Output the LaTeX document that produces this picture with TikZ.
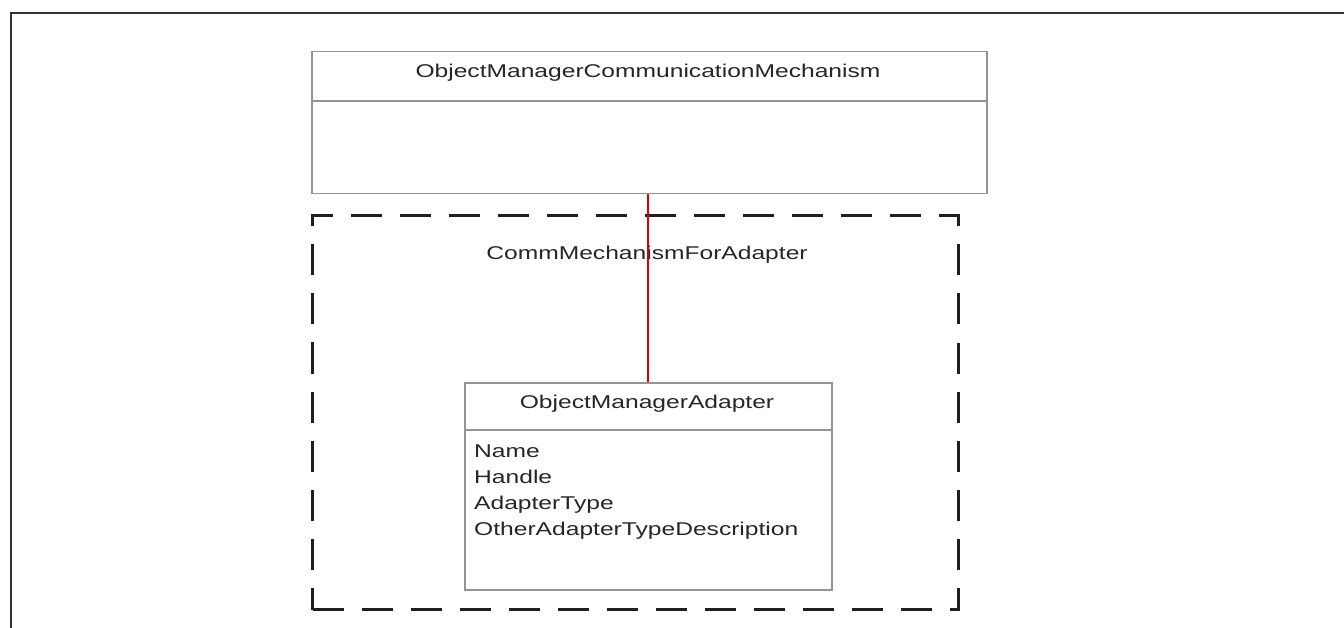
\documentclass[tikz,border=0pt]{standalone}
\usepackage{fontspec}
\setmainfont{Liberation Sans}[FakeStretch=1.33]
\begin{document}
\begin{tikzpicture}[x=1pt,y=-1pt,
  umlbox/.style={draw=black!42, line width=1.5pt, fill=white, anchor=north west, inner sep=0pt},
  groupbox/.style={draw=black!88, line width=3pt, dash pattern=on 31pt off 18pt, anchor=north west, inner sep=0pt},
  lbl/.style={inner sep=0pt, font=\fontsize{18.5}{26}\selectfont, text=black!85},
  link/.style={draw=red!85!black, line width=2pt}]
\useasboundingbox (0,0) rectangle (1344,628);
% outer frame
\draw[black!80, line width=2.2pt] (11,632) -- (11,13) -- (1350,13);
% top class
\node[umlbox, minimum width=675pt, minimum height=142pt] (omcm) at (311,51) {};
\draw[black!42, line width=1.5pt] (311,101) -- (986,101);
\node[lbl, anchor=base] (omcmT) at (648,78) {ObjectManagerCommunicationMechanism};
% dashed group
\node[groupbox, minimum width=646pt, minimum height=394pt] (grp) at (311,214) {};
\node[lbl, anchor=base] (grpT) at (647,260) {CommMechanismForAdapter};
% bottom class
\node[umlbox, minimum width=367pt, minimum height=207pt] (oma) at (464,382) {};
\draw[black!42, line width=1.5pt] (464,430) -- (831,430);
\node[lbl, anchor=base] (omaT) at (647,408) {ObjectManagerAdapter};
\node[lbl, anchor=base west] (a1) at (474,457) {Name};
\node[lbl, anchor=base west] (a2) at (474,483) {Handle};
\node[lbl, anchor=base west] (a3) at (474,509) {AdapterType};
\node[lbl, anchor=base west] (a4) at (474,535) {OtherAdapterTypeDescription};
% connector
\draw[link] (omcm.south -| oma.north) -- (oma.north);
\end{tikzpicture}
\end{document}
